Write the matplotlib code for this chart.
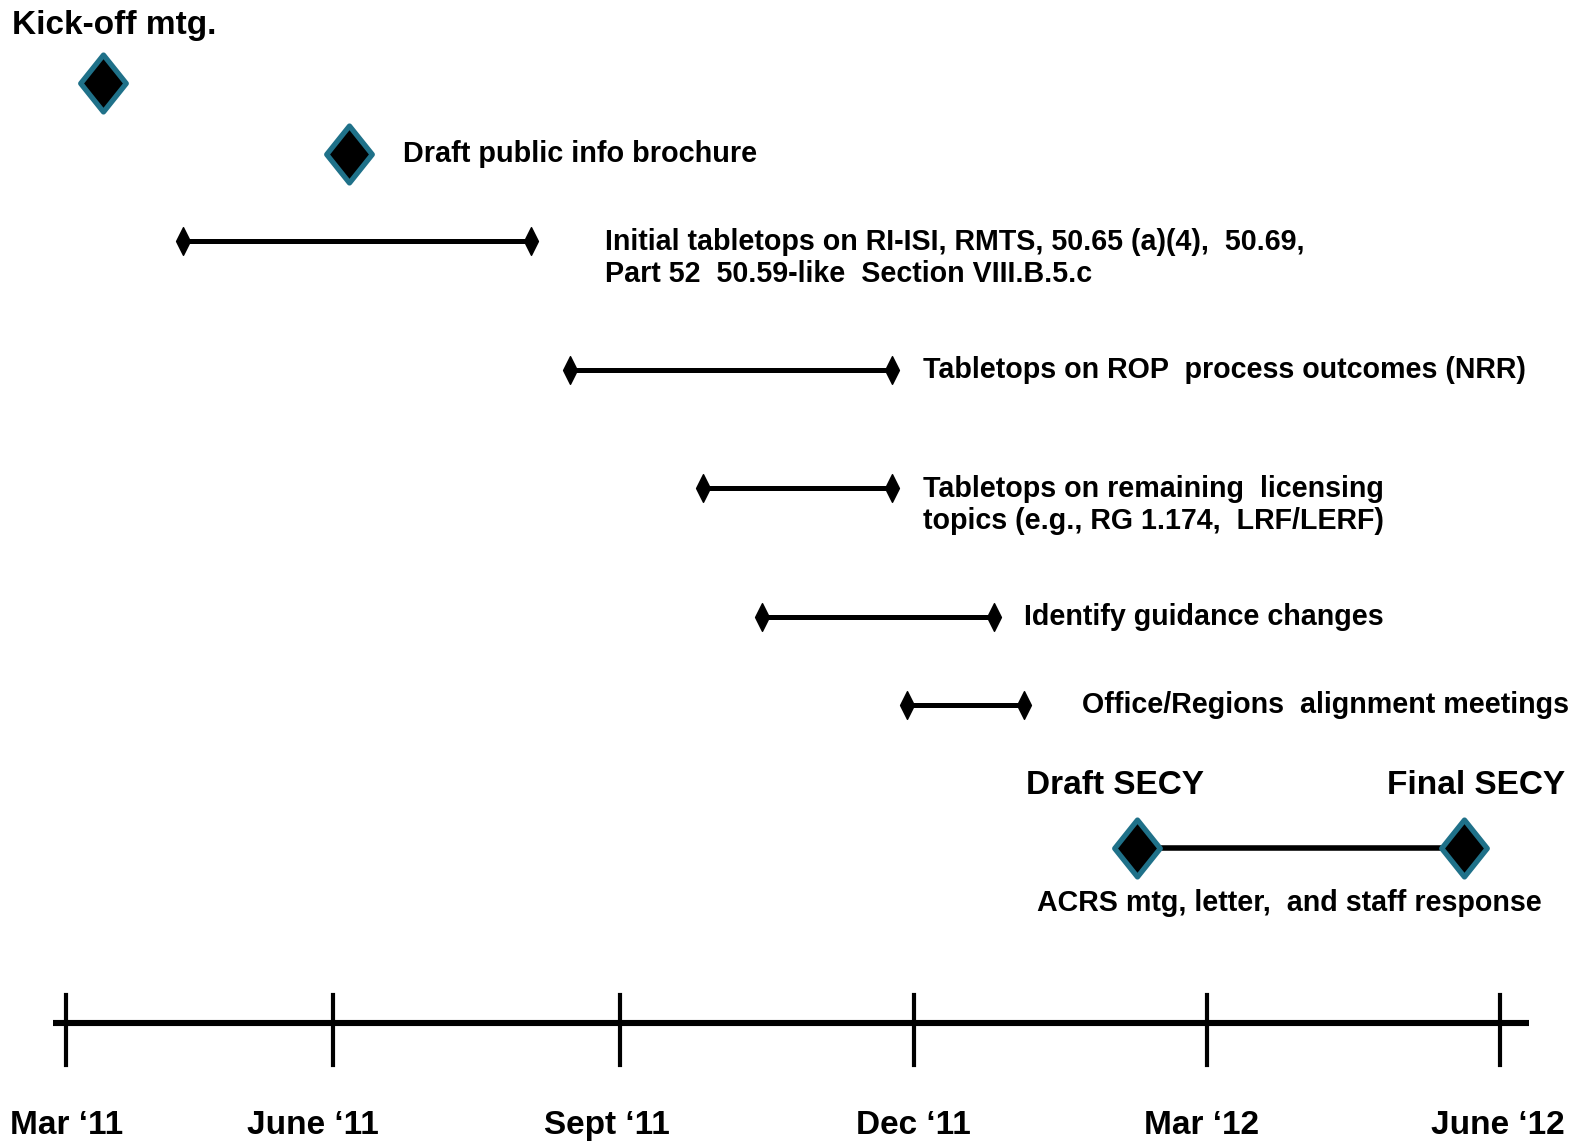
import matplotlib.pyplot as plt
from matplotlib.path import Path

# months counted from the start of March 2011
tick_labels = ["Mar \u201811", "June \u201811", "Sept \u201811", "Dec \u201811", "Mar \u201812", "June \u201812"]
tick_months = [0.26, 3.0, 5.95, 8.97, 11.99, 15.0]

milestone_names = ["Kick-off mtg.", "Draft public info brochure"]
milestone_months = [0.64, 3.17]

task_names = [
    "Initial tabletops on RI-ISI, RMTS, 50.65 (a)(4),  50.69,\nPart 52  50.59-like  Section VIII.B.5.c",
    "Tabletops on ROP  process outcomes (NRR)",
    "Tabletops on remaining  licensing\ntopics (e.g., RG 1.174,  LRF/LERF)",
    "Identify guidance changes",
    "Office/Regions  alignment meetings",
]
task_start = [1.46, 5.44, 6.81, 7.41, 8.90]
task_end = [5.04, 8.75, 8.75, 9.80, 10.10]

secy_names = ["Draft SECY", "Final SECY"]
secy_months = [11.27, 14.63]
secy_span_label = "ACRS mtg, letter,  and staff response"

plt.rcParams["font.family"] = ["Liberation Sans", "DejaVu Sans"]
plt.rcParams["font.weight"] = "bold"

teal = "#1f7189"
CODES = [Path.MOVETO, Path.LINETO, Path.LINETO, Path.LINETO, Path.CLOSEPOLY]
big_diamond = Path([(0, 1), (0.8, 0), (0, -1), (-0.8, 0), (0, 1)], CODES)
end_diamond = Path([(0, 1), (0.5, 0), (0, -1), (-0.5, 0), (0, 1)], CODES)

fig = plt.figure(figsize=(15.81, 11.44), dpi=100)
ax = fig.add_axes([0, 0, 1, 1])
ax.set_xlim(-0.4197, 15.829)
ax.set_ylim(1135, 0)
ax.axis("off")

# vertical layout of the rows
milestone_rows = [82, 153]
task_rows = [239, 367, 484, 612, 699]
secy_row = 841
axis_row = 1015

# single milestones
for m, y in zip(milestone_months, milestone_rows):
    ax.plot(m, y, marker=big_diamond, ms=41, mfc="black", mec=teal, mew=3.8, zorder=3)
ax.text(-0.30, 25, milestone_names[0], fontsize=24, va="center", ha="left")
ax.text(3.72, 153, milestone_names[1], fontsize=20.8, va="center", ha="left")

# task bars
label_x = [5.80, 9.07, 9.07, 10.10, 10.70]
for s, e, y, name, lx in zip(task_start, task_end, task_rows, task_names, label_x):
    ax.plot([s, e], [y, y], color="black", lw=3.6, solid_capstyle="butt", zorder=2)
    ax.plot([s, e], [y, y], ls="none", marker=end_diamond, ms=20, color="black", zorder=3)
    ty = y + 17 if "\n" in name else y
    ax.text(lx, ty, name, fontsize=20.6, va="center", ha="left", linespacing=1.2)

# SECY span
ax.plot(secy_months, [secy_row, secy_row], color="black", lw=4, zorder=2)
for m in secy_months:
    ax.plot(m, secy_row, marker=big_diamond, ms=41, mfc="black", mec=teal, mew=3.8, zorder=3)
ax.text(10.13, 779, secy_names[0], fontsize=24, va="center", ha="left")
ax.text(13.84, 779, secy_names[1], fontsize=24, va="center", ha="left")
ax.text(12.83, 896, secy_span_label, fontsize=20.6, va="center", ha="center")

# time axis
label_shift = [0.0, -0.2, -0.13, 0.0, -0.06, -0.03]
ax.plot([0.12, 15.29], [axis_row, axis_row], color="black", lw=4.4, solid_capstyle="butt")
for m, lab, dx in zip(tick_months, tick_labels, label_shift):
    ax.plot([m, m], [987, 1057], color="black", lw=3)
    ax.text(m + dx, 1117, lab, fontsize=24, va="center", ha="center")

fig.savefig("out.png", dpi=100)
